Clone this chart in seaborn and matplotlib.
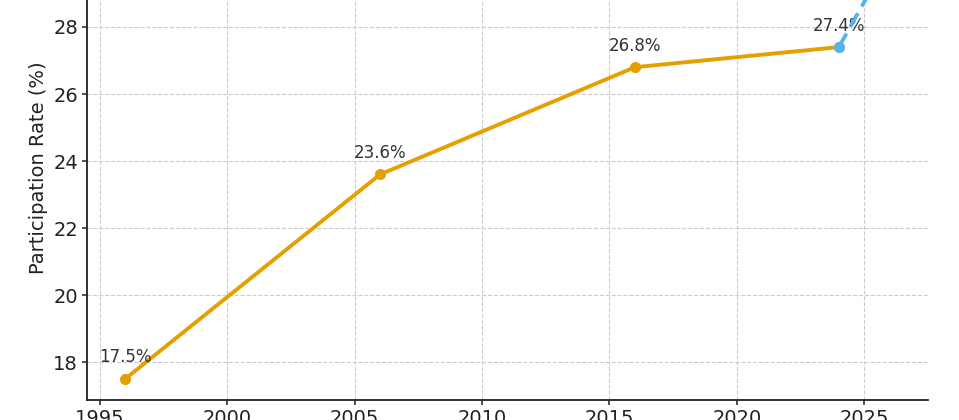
import matplotlib
matplotlib.use("Agg")
import matplotlib.pyplot as plt
import seaborn as sns
import pandas as pd

years = [1996, 2006, 2016, 2024]
rates = [17.5, 23.6, 26.8, 27.4]
proj_years = [2024, 2026]
proj_rates = [27.4, 30.1]

sns.set_style("ticks")
plt.rcParams['font.family'] = ['DejaVu Sans']

fig = plt.figure(figsize=(9.59, 4.2), dpi=100)
ax = fig.add_axes([0.0907, 0.0476, 0.877, 1.106])

hist = pd.DataFrame({"Year": years, "Rate": rates})
proj = pd.DataFrame({"Year": proj_years, "Rate": proj_rates})

sns.lineplot(data=hist, x="Year", y="Rate", ax=ax, color="#E69F00", linewidth=2.8,
             marker="o", markersize=8, markeredgewidth=0, zorder=3)
sns.lineplot(data=proj, x="Year", y="Rate", ax=ax, color="#56B4E9", linewidth=2.8,
             linestyle=(0, (4, 2)), marker="o", markersize=8, markeredgewidth=0, zorder=4)

for x, y in zip(years, rates):
    ax.annotate(f"{y}%", (x, y), xytext=(0, 9), textcoords="offset points",
                ha="center", va="bottom", fontsize=12, color="#333333")

ax.set_xlim(1994.5, 2027.5)
ax.set_ylim(16.87, 30.73)
ax.set_xticks([1995, 2000, 2005, 2010, 2015, 2020, 2025])
ax.set_yticks([18, 20, 22, 24, 26, 28])
ax.tick_params(labelsize=14, length=3.5, width=1.1, pad=3, colors="#222222")
ax.set_xlabel("")
ax.set_ylabel("Participation Rate (%)", fontsize=14, color="#222222")
ax.grid(True, linestyle="--", color="#cccccc", linewidth=0.8)
sns.despine(ax=ax)
for s in ["left", "bottom"]:
    ax.spines[s].set_linewidth(1.3)
    ax.spines[s].set_color("#222222")

fig.savefig("out.png", dpi=100)
